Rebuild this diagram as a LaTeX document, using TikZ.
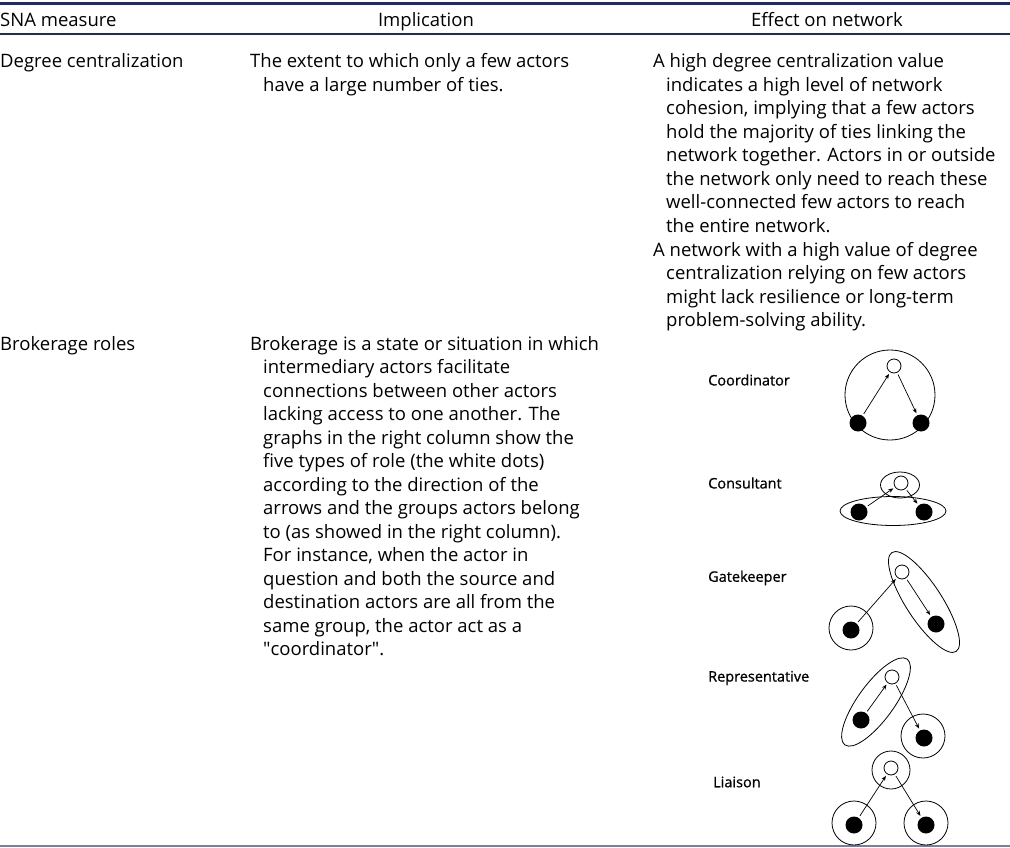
\documentclass[tikz,border=0pt]{standalone}
\usepackage{fontspec}
\setmainfont{Open Sans}
\newfontfamily\lblfont[FakeBold=0.8]{Open Sans}
\newfontfamily\qfont[Ligatures=ResetAll]{Open Sans}
\usetikzlibrary{arrows.meta,shapes.geometric}
\definecolor{rulec}{HTML}{1F2A6B}
\definecolor{rulelight}{HTML}{7A7DA6}
\newcommand{\hangpar}[2]{\parbox[t]{#1}{\hangindent=13pt\hangafter=1 #2}}
\newcommand{\sq}{{\qfont"}}
\begin{document}
\begin{tikzpicture}[x=1pt,y=-1pt,
  txt/.style={anchor=base west,inner sep=0pt,font=\fontsize{18.5}{23.5}\selectfont},
  para/.style={anchor=base west,inner sep=0pt,font=\fontsize{18.5}{23.5}\selectfont},
  hdr/.style={anchor=base,inner sep=0pt,font=\fontsize{18.5}{23.5}\selectfont},
  lbl/.style={anchor=west,inner sep=0pt,font=\lblfont\fontsize{14.5}{16}\selectfont},
  wdot/.style={circle,draw,fill=white,minimum size=14pt,inner sep=0pt,line width=0.8pt},
  bdot/.style={circle,fill=black,minimum size=17pt,inner sep=0pt},
  grp/.style={draw,line width=0.8pt,inner sep=0pt},
  arr/.style={-{Stealth[length=5pt,width=4pt]},line width=0.7pt,shorten >=2pt,shorten <=2pt},
  toprule/.style={draw=rulec,line width=2.2pt},
  midrule/.style={draw=rulec,line width=1.8pt},
  botrule/.style={draw=rulelight,line width=1.4pt}]
\useasboundingbox (0,0) rectangle (1010,848);
% rules
\coordinate (t1) at (0,3.5); \coordinate (t2) at (1010,3.5);
\coordinate (m1) at (0,34); \coordinate (m2) at (1010,34);
\coordinate (b1) at (0,846); \coordinate (b2) at (1010,846);
\draw[toprule] (t1) -- (t2);
\draw[midrule] (m1) -- (m2);
\draw[botrule] (b1) -- (b2);
% header
\node[txt] (h1) at (0,27) {SNA measure};
\node[hdr] (h2) at (426,27) {Implication};
\node[hdr] (h3) at (827,27) {Effect on network};
% row 1
\node[txt] (r1a) at (0,68) {Degree centralization};
\node[para] (r1b) at (250,68) {\hangpar{500pt}{%
The extent to which only a few actors\\
have a large number of ties.}};
\node[para] (r1c) at (653,68) {\hangpar{500pt}{%
A high degree centralization value\\
indicates a high level of network\\
cohesion, implying that a few actors\\
hold the majority of ties linking the\\
network together. Actors in or outside\\
the network only need to reach these\\
well-connected few actors to reach\\
the entire network.}};
\node[para] (r1d) at (653,256) {\hangpar{500pt}{%
A network with a high value of degree\\
centralization relying on few actors\\
might lack resilience or long-term\\
problem-solving ability.}};
% row 2
\node[txt] (r2a) at (0,350) {Brokerage roles};
\node[para] (r2b) at (250,350) {\hangpar{500pt}{%
Brokerage is a state or situation in which\\
intermediary actors facilitate\\
connections between other actors\\
lacking access to one another. The\\
graphs in the right column show the\\
five types of role (the white dots)\\
according to the direction of the\\
arrows and the groups actors belong\\
to (as showed in the right column).\\
For instance, when the actor in\\
question and both the source and\\
destination actors are all from the\\
same group, the actor act as a\\
\sq coordinator\sq.}};
% labels
\node[lbl] (lc) at (708,380) {Coordinator};
\node[lbl] (ls) at (708,483) {Consultant};
\node[lbl] (lg) at (708,578) {Gatekeeper};
\node[lbl] (lr) at (708,678) {Representative};
\node[lbl] (ll) at (713,782) {Liaison};
\begin{scope}[xshift=25pt]
% Coordinator
\node[grp,circle,minimum size=90pt] (cg) at (865,395) {};
\node[wdot] (cw) at (869,366) {};
\node[bdot] (cb1) at (833,423) {};
\node[bdot] (cb2) at (896,423) {};
\draw[arr] (cb1) -- (cw);
\draw[arr] (cw) -- (cb2);
% Consultant
\node[grp,ellipse,minimum width=39pt,minimum height=26pt] (sg1) at (875,485) {};
\node[grp,ellipse,minimum width=106pt,minimum height=29pt] (sg2) at (868,511) {};
\node[wdot] (sw) at (876,483) {};
\node[bdot] (sb1) at (834,512) {};
\node[bdot] (sb2) at (899,512) {};
\draw[arr] (sb1) -- (sw);
\draw[arr] (sw) -- (sb2);
% Gatekeeper
\node[grp,circle,minimum size=44pt] (gg1) at (826,628) {};
\node[grp,ellipse,minimum width=118pt,minimum height=36pt,rotate=-57] (gg2) at (899,602) {};
\node[bdot] (gb1) at (826,630) {};
\node[wdot] (gw) at (877,572) {};
\node[bdot] (gb2) at (911,624) {};
\draw[arr] (gb1) -- (gw);
\draw[arr] (gw) -- (gb2);
% Representative
\node[grp,ellipse,minimum width=106pt,minimum height=36pt,rotate=54] (rg1) at (851,702) {};
\node[grp,circle,minimum size=44pt] (rg2) at (898,736) {};
\node[wdot] (rw) at (867,677) {};
\node[bdot] (rb1) at (836,720) {};
\node[bdot] (rb2) at (899,738) {};
\draw[arr] (rb1) -- (rw);
\draw[arr] (rw) -- (rb2);
% Liaison
\node[grp,circle,minimum size=38pt] (lg1) at (866,770) {};
\node[grp,circle,minimum size=44pt] (lg2) at (829,823) {};
\node[grp,circle,minimum size=44pt] (lg3) at (901,823) {};
\node[wdot] (lw) at (866,768) {};
\node[bdot] (lb1) at (829,825) {};
\node[bdot] (lb2) at (901,825) {};
\draw[arr] (lb1) -- (lw);
\draw[arr] (lw) -- (lb2);
\end{scope}
\end{tikzpicture}
\end{document}
